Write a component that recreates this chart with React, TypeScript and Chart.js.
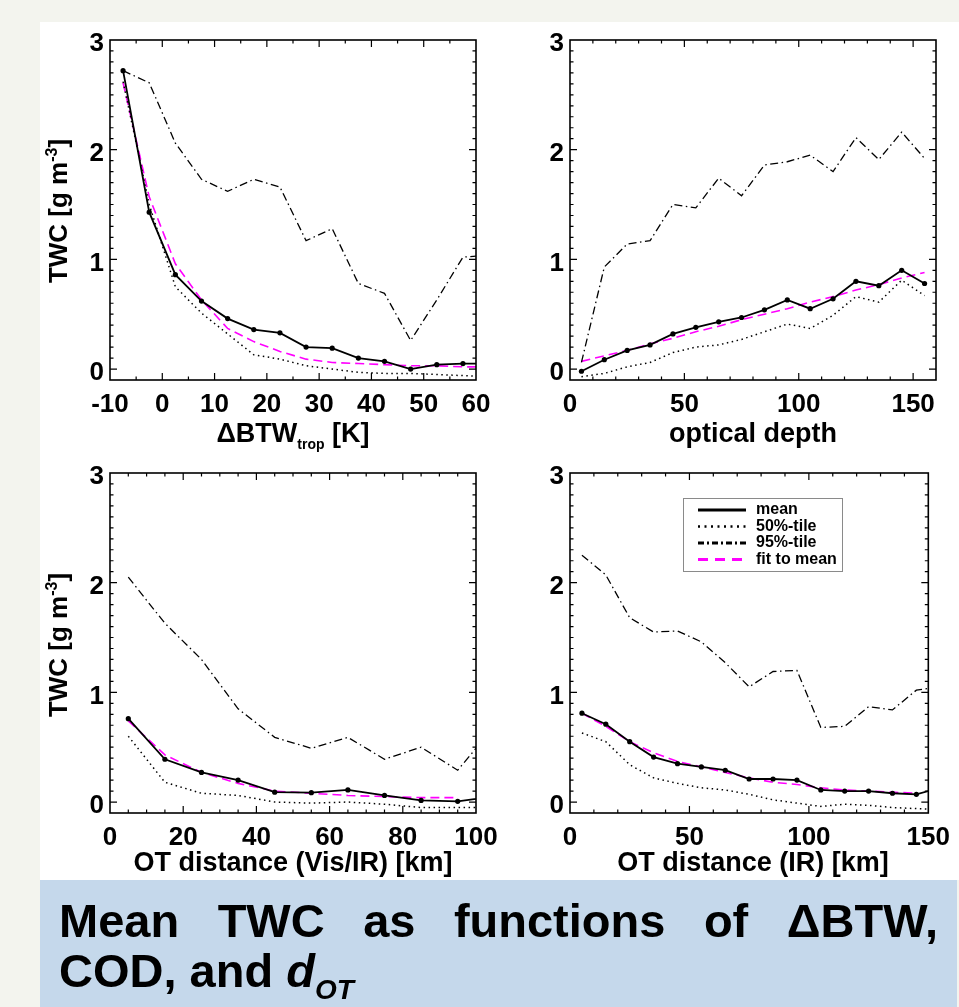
import React, { useEffect, useRef } from "react";
import { Chart, registerables } from "chart.js";

Chart.register(...registerables);

const FONT = '"Liberation Sans", Arial, Helvetica, sans-serif';
const PAGE_W = 959;
const PAGE_H = 1007;
const YW = 60;
const XH = 60;

const Y_TICKS = [0, 1, 2, 3];

// Panel 1: ΔBTW_trop
const P1_X = [-7.5, -2.5, 2.5, 7.5, 12.5, 17.5, 22.5, 27.5, 32.5, 37.5, 42.5, 47.5, 52.5, 57.5, 62.5];
const P1_MEAN = [2.72, 1.43, 0.86, 0.62, 0.46, 0.36, 0.33, 0.2, 0.19, 0.1, 0.07, 0.0, 0.04, 0.05, 0.05];
const P1_P50 = [2.62, 1.5, 0.75, 0.51, 0.32, 0.13, 0.09, 0.03, 0.0, -0.03, -0.04, -0.04, -0.05, -0.06, -0.07];
const P1_P95 = [2.72, 2.61, 2.06, 1.73, 1.62, 1.73, 1.66, 1.17, 1.28, 0.78, 0.69, 0.26, 0.63, 1.02, 1.04];
const P1_FIT = [2.61, 1.57, 0.96, 0.63, 0.37, 0.25, 0.16, 0.09, 0.06, 0.05, 0.04, 0.03, 0.03, 0.02, 0.02];
const P1_XTICKS = [-10, 0, 10, 20, 30, 40, 50, 60];

// Panel 2: optical depth
const P2_X = [5, 15, 25, 35, 45, 55, 65, 75, 85, 95, 105, 115, 125, 135, 145, 155];
const P2_MEAN = [-0.02, 0.085, 0.17, 0.22, 0.32, 0.38, 0.43, 0.47, 0.54, 0.63, 0.55, 0.64, 0.8, 0.76, 0.9, 0.78];
const P2_P50 = [-0.07, -0.04, 0.02, 0.06, 0.15, 0.2, 0.22, 0.27, 0.34, 0.41, 0.37, 0.49, 0.66, 0.61, 0.81, 0.67];
const P2_P95 = [0.06, 0.93, 1.14, 1.17, 1.5, 1.47, 1.74, 1.58, 1.86, 1.89, 1.95, 1.8, 2.11, 1.91, 2.16, 1.92];
const P2_FIT = [0.07, 0.12, 0.17, 0.23, 0.28, 0.34, 0.39, 0.45, 0.5, 0.55, 0.61, 0.66, 0.72, 0.77, 0.83, 0.88];
const P2_XTICKS = [0, 50, 100, 150];

// Panel 3: OT distance (Vis/IR)
const P3_X = [5, 15, 25, 35, 45, 55, 65, 75, 85, 95, 105];
const P3_MEAN = [0.76, 0.39, 0.27, 0.2, 0.09, 0.085, 0.11, 0.06, 0.015, 0.006, 0.05];
const P3_P50 = [0.6, 0.18, 0.08, 0.06, 0.0, -0.01, 0.0, -0.02, -0.05, -0.05, -0.05];
const P3_P95 = [2.05, 1.63, 1.3, 0.85, 0.59, 0.49, 0.59, 0.39, 0.5, 0.29, 0.69];
const P3_FIT = [0.74, 0.43, 0.27, 0.17, 0.1, 0.08, 0.06, 0.05, 0.04, 0.04];
const P3_XTICKS = [0, 20, 40, 60, 80, 100];

// Panel 4: OT distance (IR)
const P4_X = [5, 15, 25, 35, 45, 55, 65, 75, 85, 95, 105, 115, 125, 135, 145, 155];
const P4_MEAN = [0.81, 0.71, 0.55, 0.41, 0.35, 0.32, 0.29, 0.21, 0.21, 0.2, 0.11, 0.1, 0.1, 0.08, 0.07, 0.13];
const P4_P50 = [0.63, 0.55, 0.34, 0.22, 0.17, 0.13, 0.11, 0.07, 0.02, -0.01, -0.04, -0.02, -0.03, -0.05, -0.06, -0.07];
const P4_P95 = [2.25, 2.07, 1.68, 1.55, 1.56, 1.46, 1.27, 1.05, 1.19, 1.2, 0.68, 0.69, 0.87, 0.84, 1.02, 1.05];
const P4_FIT = [0.81, 0.69, 0.55, 0.45, 0.37, 0.32, 0.27, 0.22, 0.18, 0.16, 0.13, 0.11, 0.1, 0.09, 0.08];
const P4_XTICKS = [0, 50, 100, 150];

const SERIES_LABELS = ["mean", "50%-tile", "95%-tile", "fit to mean"];

type Panel = {
  area: { l: number; t: number; r: number; b: number };
  xMin: number;
  xMax: number;
  xTicks: number[];
  xMinor: number;
  x: number[];
  mean: number[];
  p50: number[];
  p95: number[];
  fit: number[];
  legend: boolean;
};

const PANELS: Panel[] = [
  { area: { l: 110, t: 40, r: 476, b: 380 }, xMin: -10, xMax: 60, xTicks: P1_XTICKS, xMinor: 5, x: P1_X, mean: P1_MEAN, p50: P1_P50, p95: P1_P95, fit: P1_FIT, legend: false },
  { area: { l: 570, t: 40, r: 936, b: 380 }, xMin: 0, xMax: 160, xTicks: P2_XTICKS, xMinor: 10, x: P2_X, mean: P2_MEAN, p50: P2_P50, p95: P2_P95, fit: P2_FIT, legend: false },
  { area: { l: 110, t: 473, r: 476, b: 813 }, xMin: 0, xMax: 100, xTicks: P3_XTICKS, xMinor: 5, x: P3_X, mean: P3_MEAN, p50: P3_P50, p95: P3_P95, fit: P3_FIT, legend: false },
  { area: { l: 570, t: 473, r: 936, b: 813 }, xMin: 0, xMax: 150, xTicks: P4_XTICKS, xMinor: 10, x: P4_X, mean: P4_MEAN, p50: P4_P50, p95: P4_P95, fit: P4_FIT, legend: true },
];

function steps(min: number, max: number, step: number): number[] {
  const out: number[] = [];
  const n0 = Math.ceil(min / step - 1e-9);
  const n1 = Math.floor(max / step + 1e-9);
  for (let n = n0; n <= n1; n++) out.push(+(n * step).toFixed(6));
  return out;
}

const framePlugin = {
  id: "frame",
  afterDatasetsDraw(chart: any, _args: any, opts: any) {
    const { ctx, chartArea: a, scales } = chart;
    const xs = scales.x;
    const ys = scales.y;
    ctx.save();
    ctx.strokeStyle = "#000";
    ctx.lineWidth = 1.2;
    const xMajor: number[] = opts.xMajor || [];
    const xMinor = steps(xs.min, xs.max, opts.xMinor).filter((v) => !xMajor.some((m) => Math.abs(m - v) < 1e-6));
    const yMajor: number[] = opts.yMajor || [];
    const yMinor = steps(ys.min, ys.max, opts.yMinor).filter((v) => !yMajor.some((m) => Math.abs(m - v) < 1e-6));
    const drawX = (vals: number[], len: number) => {
      vals.forEach((v) => {
        const p = xs.getPixelForValue(v);
        if (p < a.left + 0.5 || p > a.right - 0.5) return;
        ctx.beginPath();
        ctx.moveTo(p, a.bottom);
        ctx.lineTo(p, a.bottom - len);
        ctx.moveTo(p, a.top);
        ctx.lineTo(p, a.top + len);
        ctx.stroke();
      });
    };
    const drawY = (vals: number[], len: number) => {
      vals.forEach((v) => {
        const p = ys.getPixelForValue(v);
        if (p < a.top + 0.5 || p > a.bottom - 0.5) return;
        ctx.beginPath();
        ctx.moveTo(a.left, p);
        ctx.lineTo(a.left + len, p);
        ctx.moveTo(a.right, p);
        ctx.lineTo(a.right - len, p);
        ctx.stroke();
      });
    };
    drawX(xMajor, 7);
    drawX(xMinor, 3.5);
    drawY(yMajor, 7);
    drawY(yMinor, 3.5);
    ctx.lineWidth = 1.6;
    ctx.strokeRect(a.left, a.top, a.right - a.left, a.bottom - a.top);
    ctx.restore();
  },
};

const LEG_DASH = [[], [2, 4.5], [6, 3, 2, 3], [10, 7]];

const legendPlugin = {
  id: "twcLegend",
  afterDatasetsDraw(chart: any, _args: any, opts: any) {
    if (!opts || !opts.show) return;
    const { ctx, chartArea: a } = chart;
    const bx = a.left + 113;
    const by = a.top + 25;
    const bw = 159;
    const bh = 73;
    ctx.save();
    ctx.fillStyle = "#fff";
    ctx.fillRect(bx, by, bw, bh);
    ctx.strokeStyle = "#8a8a8a";
    ctx.lineWidth = 1;
    ctx.strokeRect(bx + 0.5, by + 0.5, bw, bh);
    chart.data.datasets.forEach((ds: any, i: number) => {
      const y = by + 12 + i * 16.5;
      ctx.beginPath();
      ctx.setLineDash(LEG_DASH[i]);
      ctx.strokeStyle = ds.borderColor;
      ctx.lineWidth = i === 1 ? 2.5 : 3;
      ctx.moveTo(bx + 15, y);
      ctx.lineTo(bx + 63, y);
      ctx.stroke();
      ctx.setLineDash([]);
      ctx.fillStyle = "#000";
      ctx.font = `bold 16px ${FONT}`;
      ctx.textBaseline = "middle";
      ctx.textAlign = "left";
      ctx.fillText(ds.label, bx + 73, y);
    });
    ctx.restore();
  },
};

function makeConfig(p: Panel): any {
  const pts = (vals: number[]) => vals.map((y, i) => ({ x: p.x[i], y }));
  const tickFont = { family: FONT, size: 26, weight: "bold" as const };
  return {
    type: "line",
    data: {
      datasets: [
        { label: SERIES_LABELS[0], data: pts(p.mean), borderColor: "#000", borderWidth: 1.8, pointRadius: 2.6, pointBackgroundColor: "#000", pointBorderWidth: 0, tension: 0, order: 0 },
        { label: SERIES_LABELS[1], data: pts(p.p50), borderColor: "#000", borderWidth: 1.5, borderDash: [1.5, 3.5], pointRadius: 0, tension: 0, order: 1 },
        { label: SERIES_LABELS[2], data: pts(p.p95), borderColor: "#000", borderWidth: 1.3, borderDash: [8, 3.5, 1.5, 3.5], pointRadius: 0, tension: 0, order: 2 },
        { label: SERIES_LABELS[3], data: pts(p.fit), borderColor: "#ff00ff", borderWidth: 1.6, borderDash: [9, 5], pointRadius: 0, tension: 0, order: 3 },
      ],
    },
    options: {
      responsive: false,
      animation: false,
      events: [],
      layout: {
        padding: { left: p.area.l - YW, top: p.area.t, right: PAGE_W - p.area.r, bottom: PAGE_H - p.area.b - XH },
      },
      plugins: {
        legend: { display: false },
        tooltip: { enabled: false },
        frame: { xMajor: p.xTicks, xMinor: p.xMinor, yMajor: Y_TICKS, yMinor: 0.1 },
        twcLegend: { show: p.legend },
      },
      scales: {
        x: {
          type: "linear",
          min: p.xMin,
          max: p.xMax,
          grid: { display: false, drawTicks: false, tickLength: 0 },
          border: { display: false },
          afterBuildTicks: (s: any) => {
            s.ticks = p.xTicks.map((v) => ({ value: v }));
          },
          afterFit: (s: any) => {
            s.height = XH;
          },
          ticks: { font: tickFont, color: "#000", padding: 9, maxRotation: 0, minRotation: 0, autoSkip: false, callback: (v: any) => String(v) },
        },
        y: {
          type: "linear",
          min: -0.1,
          max: 3.0,
          grid: { display: false, drawTicks: false, tickLength: 0 },
          border: { display: false },
          afterBuildTicks: (s: any) => {
            s.ticks = Y_TICKS.map((v) => ({ value: v }));
          },
          afterFit: (s: any) => {
            s.width = YW;
          },
          ticks: { font: tickFont, color: "#000", padding: 6, labelOffset: 4, autoSkip: false, callback: (v: any) => String(v) },
        },
      },
    },
    plugins: [framePlugin, legendPlugin],
  };
}

function PanelChart({ panel }: { panel: Panel }) {
  const ref = useRef<HTMLCanvasElement | null>(null);
  useEffect(() => {
    if (!ref.current) return;
    const chart = new Chart(ref.current, makeConfig(panel));
    return () => chart.destroy();
  }, [panel]);
  return (
    <canvas
      ref={ref}
      width={PAGE_W}
      height={PAGE_H}
      style={{ position: "absolute", left: 0, top: 0, width: PAGE_W, height: PAGE_H }}
    />
  );
}

const xTitle = (cx: number, baseline: number): React.CSSProperties => ({
  position: "absolute",
  left: cx - 250,
  width: 500,
  top: baseline - 22.8,
  textAlign: "center",
  font: `bold 27px ${FONT}`,
  lineHeight: "27px",
  color: "#000",
  whiteSpace: "nowrap",
});

const yTitle = (cx: number, cy: number): React.CSSProperties => ({
  position: "absolute",
  left: cx - 150,
  top: cy - 13,
  width: 300,
  height: 26,
  textAlign: "center",
  font: `bold 26px ${FONT}`,
  lineHeight: "26px",
  color: "#000",
  whiteSpace: "nowrap",
  transform: "rotate(-90deg)",
  transformOrigin: "50% 50%",
});

export default function App() {
  return (
    <div style={{ position: "absolute", left: 0, top: 0, width: PAGE_W, height: PAGE_H, overflow: "hidden", background: "#f3f4ee" }}>
      <div style={{ position: "absolute", left: 40, top: 22, width: PAGE_W - 40, height: 858, background: "#ffffff" }} />
      <div style={{ position: "absolute", left: 40, top: 880, width: 917, height: PAGE_H - 880, background: "#c5d8eb" }} />
      {PANELS.map((p, i) => (
        <PanelChart key={i} panel={p} />
      ))}
      <div style={xTitle(293, 443)}>
        ΔBTW<span style={{ fontSize: 14, position: "relative", top: 7 }}>trop</span> [K]
      </div>
      <div style={xTitle(753, 443)}>optical depth</div>
      <div style={xTitle(293, 872)}>OT distance (Vis/IR) [km]</div>
      <div style={xTitle(753, 872)}>OT distance (IR) [km]</div>
      <div style={yTitle(58, 211)}>
        TWC [g m<span style={{ fontSize: 16, position: "relative", top: -10 }}>-3</span>]
      </div>
      <div style={yTitle(58, 645)}>
        TWC [g m<span style={{ fontSize: 16, position: "relative", top: -10 }}>-3</span>]
      </div>
      <div
        style={{
          position: "absolute",
          left: 59,
          top: 897,
          width: 879,
          font: `bold 47px ${FONT}`,
          lineHeight: "47px",
          color: "#000",
          textAlign: "justify",
          textAlignLast: "justify" as any,
          whiteSpace: "nowrap",
        }}
      >
        Mean TWC as functions of ΔBTW,
      </div>
      <div
        style={{
          position: "absolute",
          left: 59,
          top: 947,
          font: `bold 47px ${FONT}`,
          lineHeight: "47px",
          color: "#000",
          whiteSpace: "nowrap",
        }}
      >
        COD, and <i>d</i>
        <i style={{ fontSize: 28, position: "relative", top: 12 }}>OT</i>
      </div>
    </div>
  );
}
